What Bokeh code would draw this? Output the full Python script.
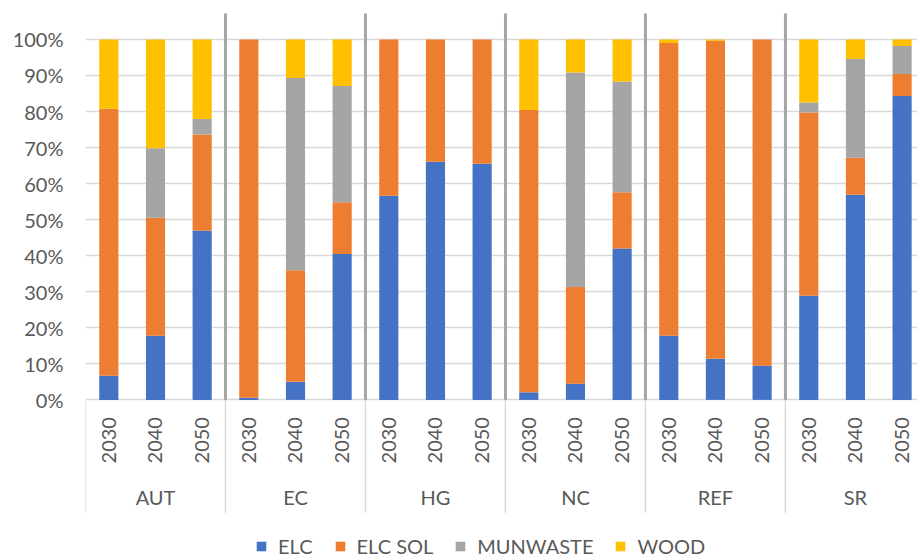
import math
from bokeh.plotting import figure
from bokeh.models import Range1d, FixedTicker, PrintfTickFormatter, ColumnDataSource, Legend
from bokeh.core.properties import value
from bokeh.embed import file_html
from bokeh.resources import INLINE

# ---------------- data ----------------
groups = ["AUT", "EC", "HG", "NC", "REF", "SR"]
years = ["2030", "2040", "2050"]
series = ["ELC", "ELC SOL", "MUNWASTE", "WOOD"]
colors = ["#4472C4", "#ED7D31", "#A5A5A5", "#FFC000"]

elc = [6.7, 17.8, 47.0, 0.6, 5.0, 40.5, 56.6, 66.1, 65.5, 2.1, 4.5, 42.0, 17.8, 11.4, 9.5, 28.9, 56.9, 84.3]
elc_sol = [74.1, 32.7, 26.6, 99.4, 31.0, 14.3, 43.4, 33.9, 34.5, 78.3, 26.8, 15.6, 81.2, 88.2, 90.5, 50.8, 10.3, 6.1]
munwaste = [0.0, 19.3, 4.3, 0.0, 53.3, 32.3, 0.0, 0.0, 0.0, 0.0, 59.5, 30.7, 0.0, 0.0, 0.0, 2.8, 27.4, 7.8]
wood = [19.2, 30.2, 22.1, 0.0, 10.7, 12.9, 0.0, 0.0, 0.0, 19.6, 9.2, 11.7, 1.0, 0.4, 0.0, 17.5, 5.4, 1.8]
y_ticks = [0, 10, 20, 30, 40, 50, 60, 70, 80, 90, 100]

# ---------------- layout ----------------
n = len(groups) * len(years)
xs = [i + 0.5 for i in range(n)]
year_labels = [y for g in groups for y in years]

src = ColumnDataSource(dict(x=xs, ELC=elc, **{"ELC SOL": elc_sol}, MUNWASTE=munwaste, WOOD=wood))

TEXT = "#595959"
FONT = value("Lato")

p = figure(width=917, height=558, output_backend="svg", toolbar_location=None, tools="",
           x_range=Range1d(0, 17.83), y_range=Range1d(-44.0, 110.8),
           x_axis_location=None, min_border_left=85, min_border_right=0,
           min_border_top=0, min_border_bottom=0)
p.outline_line_color = None
p.background_fill_color = "white"
p.border_fill_color = "white"

# grid
p.ygrid.ticker = FixedTicker(ticks=y_ticks)
p.ygrid.grid_line_color = "#D9D9D9"
p.ygrid.grid_line_width = 1.5
p.xgrid.visible = False

# y axis
ax = p.yaxis[0]
ax.ticker = FixedTicker(ticks=y_ticks)
ax.formatter = PrintfTickFormatter(format="%d%%")
ax.axis_line_color = None
ax.major_tick_line_color = None
ax.minor_tick_line_color = None
ax.major_tick_out = 0
ax.major_label_standoff = 22
ax.major_label_text_font = "Lato"
ax.major_label_text_font_size = "20px"
ax.major_label_text_color = TEXT

# bars
renderers = p.vbar_stack(series, x="x", width=0.41, source=src, color=colors, line_color=None)

# separators
bounds = [k * len(years) for k in range(1, len(groups))]
p.segment(x0=bounds, x1=bounds, y0=[0] * len(bounds), y1=[107.2] * len(bounds),
          line_color="#A6A6A6", line_width=3)
low = [k * len(years) for k in range(0, len(groups) + 1)]
p.segment(x0=low, x1=low, y0=[0] * len(low), y1=[-31.3] * len(low),
          line_color="#D9D9D9", line_width=1.5)

# category labels
p.text(x=xs, y=[-11.2] * n, text=year_labels, angle=math.pi / 2,
       text_font=FONT, text_font_size="20px", text_color=TEXT,
       text_align="center", text_baseline="middle")
gx = [k * len(years) + len(years) / 2 for k in range(len(groups))]
p.text(x=gx, y=[-26.8] * len(groups), text=groups,
       text_font=FONT, text_font_size="20px", text_color=TEXT,
       text_align="center", text_baseline="middle")

# legend
legend = Legend(items=[(s, [r]) for s, r in zip(series, renderers)],
                orientation="horizontal", location=(170, 0),
                padding=0, margin=0, spacing=21, label_standoff=11,
                glyph_width=12, glyph_height=12,
                label_text_font="Lato", label_text_font_size="20px",
                label_text_color=TEXT, border_line_color=None,
                background_fill_alpha=0)
p.add_layout(legend, "center")

open("out.html", "w").write(file_html(p, INLINE))
